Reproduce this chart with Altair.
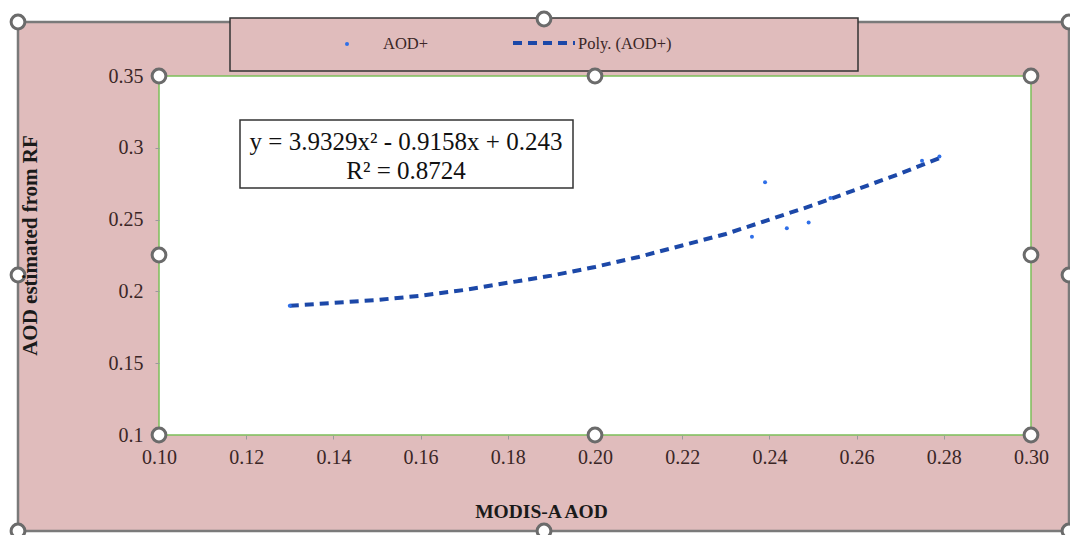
import altair as alt
import pandas as pd

# ---- data ----
pts_x = [0.130, 0.236, 0.239, 0.244, 0.249, 0.254, 0.275, 0.279]
pts_y = [0.190, 0.238, 0.276, 0.244, 0.248, 0.265, 0.291, 0.294]

trend_x = [0.13, 0.14, 0.15, 0.16, 0.17, 0.18, 0.19, 0.20, 0.21, 0.22,
           0.23, 0.24, 0.25, 0.26, 0.27, 0.28]
trend_y = [0.190, 0.192, 0.194, 0.197, 0.201, 0.206, 0.211, 0.217, 0.224,
           0.232, 0.240, 0.250, 0.260, 0.271, 0.282, 0.294]

x_ticks = [0.10, 0.12, 0.14, 0.16, 0.18, 0.20, 0.22, 0.24, 0.26, 0.28, 0.30]
y_ticks = [0.10, 0.15, 0.20, 0.25, 0.30, 0.35]

series_names = ["AOD+", "Poly. (AOD+)"]
eq_line1 = "y = 3.9329x² - 0.9158x + 0.243"
eq_line2 = "R² = 0.8724"
x_title = "MODIS-A AOD"
y_title = "AOD estimated from RF"

# ---- styling ----
W, H = 872, 359
PINK = "#e0bcbc"
SERIF = "Liberation Serif"
TXT = "#3a2626"

pts = pd.DataFrame({"x": pts_x, "y": pts_y})
trend = pd.DataFrame({"x": trend_x, "y": trend_y})
one = pd.DataFrame({"k": [0]})

# selection-handle positions (pixel, relative to plot origin)
handles = pd.DataFrame({
    "px": [-141, 385, 910, -141, 910, -141, 385, 910,
           0, 436, 872, 0, 872, 0, 436, 872],
    "py": [-54, -57, -54, 199, 199, 455, 455, 455,
           0, 0, 0, 179, 179, 359, 359, 359],
})

xs = alt.Scale(domain=[0.10, 0.30], nice=False, zero=False)
ys = alt.Scale(domain=[0.10, 0.35], nice=False, zero=False)

axis_common = dict(
    labelFont=SERIF, labelFontSize=20, labelColor=TXT, labelFlush=False,
    tickColor="#9a9a9a", tickSize=4, domain=False, grid=False, zindex=1,
    titleFont=SERIF, titleFontWeight="bold", titleColor="#1a1a1a",
)

hide_x = {"condition": {"test": "datum.value < 0.105 || abs(datum.value - 0.2) < 0.005 || datum.value > 0.295",
                        "value": 0}, "value": 1}
hide_y = {"condition": {"test": "datum.value < 0.105 || datum.value > 0.345 || abs(datum.value - 0.225) < 0.005",
                        "value": 0}, "value": 1}

frame = alt.Chart(one).mark_rect(fill=PINK, stroke="#7a7a7a", strokeWidth=2.5).encode(
    x=alt.value(-141), x2=alt.value(910), y=alt.value(-54), y2=alt.value(455))

plotbg = alt.Chart(one).mark_rect(fill="white", stroke="#7cbf5a", strokeWidth=1.5).encode(
    x=alt.value(0), x2=alt.value(W), y=alt.value(0), y2=alt.value(H))

legbox = alt.Chart(one).mark_rect(fill=PINK, stroke="#333333", strokeWidth=1.5).encode(
    x=alt.value(71), x2=alt.value(699), y=alt.value(-58), y2=alt.value(-5))

eqbox = alt.Chart(one).mark_rect(fill="white", stroke="#333333", strokeWidth=1.5).encode(
    x=alt.value(81), x2=alt.value(414), y=alt.value(44), y2=alt.value(112))

line = alt.Chart(trend).mark_line(color="#1c48a8", strokeWidth=4, strokeDash=[9, 6]).encode(
    x=alt.X("x:Q", scale=xs,
            axis=alt.Axis(values=x_ticks, format=".2f", labelPadding=8, tickOpacity=hide_x,
                          title=x_title, titleFontSize=19.5, titleX=382, titleY=82,
                          titleAlign="center", titleBaseline="alphabetic", titleAngle=0,
                          **axis_common)),
    y=alt.Y("y:Q", scale=ys,
            axis=alt.Axis(values=y_ticks, format="~g", labelPadding=12, tickOpacity=hide_y,
                          title=y_title, titleFontSize=21, titleX=-123, titleY=169,
                          titleAlign="center", titleBaseline="alphabetic", titleAngle=270,
                          **axis_common)),
)

points = alt.Chart(pts).mark_point(filled=True, shape="circle", size=16,
                                   color="#2f6fe8", opacity=1).encode(
    x=alt.X("x:Q", scale=xs), y=alt.Y("y:Q", scale=ys))

hnd = alt.Chart(handles).mark_point(shape="circle", size=190, filled=True,
                                    fill="white", stroke="#6b6b6b", strokeWidth=3,
                                    opacity=1).encode(
    x=alt.X("px:Q", scale=None), y=alt.Y("py:Q", scale=None))

leg_pt = alt.Chart(one).mark_point(filled=True, shape="circle", size=16,
                                   color="#2f6fe8", opacity=1).encode(
    x=alt.value(188), y=alt.value(-32))
leg_ln = alt.Chart(one).mark_rule(color="#1c48a8", strokeWidth=4, strokeDash=[9, 6]).encode(
    x=alt.value(354), x2=alt.value(416), y=alt.value(-33))
leg_t1 = alt.Chart(one).mark_text(text=series_names[0], font=SERIF, fontSize=16.5,
                                  color=TXT, align="left", baseline="middle").encode(
    x=alt.value(224), y=alt.value(-32))
leg_t2 = alt.Chart(one).mark_text(text=series_names[1], font=SERIF, fontSize=16.5,
                                  color=TXT, align="left", baseline="middle").encode(
    x=alt.value(419), y=alt.value(-32))

eq1 = alt.Chart(one).mark_text(text=eq_line1, font=SERIF, fontSize=25, color="#111111",
                               align="center", baseline="middle").encode(
    x=alt.value(247), y=alt.value(66))
eq2 = alt.Chart(one).mark_text(text=eq_line2, font=SERIF, fontSize=25, color="#111111",
                               align="center", baseline="middle").encode(
    x=alt.value(247), y=alt.value(95))

chart = alt.layer(
    frame, plotbg, legbox, eqbox, line, points, hnd,
    leg_pt, leg_ln, leg_t1, leg_t2, eq1, eq2,
).properties(
    width=W, height=H,
    autosize=alt.AutoSizeParams(type="none"),
    padding={"left": 151, "top": 68, "right": 39, "bottom": 100},
).configure_view(stroke=None, fill=None)

chart.save("out.html", embed_options={"renderer": "svg", "actions": False})
